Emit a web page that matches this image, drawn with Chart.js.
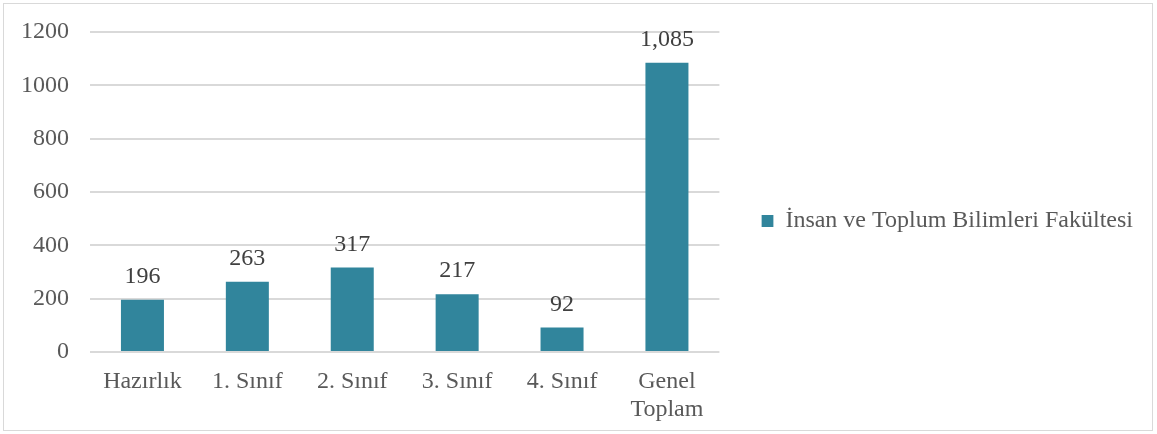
<!DOCTYPE html>
<html>
<head>
<meta charset="utf-8">
<script src="https://cdn.jsdelivr.net/npm/chart.js@4/dist/chart.umd.min.js"></script>
<style>
  html, body { margin: 0; padding: 0; background: #fff; }
  #wrap {
    position: absolute; left: 3px; top: 3px;
    width: 1150px; height: 428px;
    border: 1px solid #d9d9d9; box-sizing: border-box;
  }
</style>
</head>
<body>
<div id="wrap"><canvas id="chart"></canvas></div>
<script>
const categories = ['Hazırlık', '1. Sınıf', '2. Sınıf', '3. Sınıf', '4. Sınıf', ['Genel', 'Toplam']];
const seriesName = 'İnsan ve Toplum Bilimleri Fakültesi';
const studentCounts = [196, 263, 317, 217, 92, 1085];
const yTicks = { min: 0, max: 1200, step: 200 };

const barColor = '#31859c';
const fontFamily = '"Liberation Serif", "Times New Roman", serif';

// draws the value above each bar
const valueLabels = {
    id: 'valueLabels',
    afterDatasetsDraw(chart) {
        const ctx = chart.ctx;
        ctx.save();
        ctx.font = '24px ' + fontFamily;
        ctx.fillStyle = '#404040';
        ctx.textAlign = 'center';
        ctx.textBaseline = 'middle';
        chart.getDatasetMeta(0).data.forEach((bar, i) => {
            const v = chart.data.datasets[0].data[i];
            ctx.fillText(v.toLocaleString('en-US'), bar.x, bar.y - 23);
        });
        ctx.restore();
    }
};

new Chart(document.getElementById('chart'), {
    type: 'bar',
    data: {
        labels: categories,
        datasets: [{
            label: seriesName,
            data: studentCounts,
            backgroundColor: barColor,
            borderWidth: 0,
            barPercentage: 0.41,
            categoryPercentage: 1.0
        }]
    },
    options: {
        responsive: true,
        maintainAspectRatio: false,
        animation: false,
        layout: { padding: { left: 0, right: 9, top: 16, bottom: 8 } },
        scales: {
            x: {
                grid: { display: false, drawTicks: false },
                border: { display: false },
                ticks: {
                    color: '#595959',
                    font: { family: fontFamily, size: 24, lineHeight: 1.15 },
                    padding: 16,
                    maxRotation: 0,
                    autoSkip: false
                },
                afterFit: scale => { scale.height = 70; }
            },
            y: {
                min: yTicks.min,
                max: yTicks.max,
                grid: { color: '#d9d9d9', lineWidth: 2, drawTicks: false },
                border: { display: false },
                ticks: {
                    stepSize: yTicks.step,
                    color: '#595959',
                    font: { family: fontFamily, size: 24 },
                    padding: 21,
                    callback: v => String(v)
                },
                afterFit: scale => {
                    scale.width = 86;
                    scale.paddingTop = 28;
                    scale.paddingBottom = 14;
                }
            },
            // empty spacer between plot and legend
            gap: {
                position: 'right',
                display: true,
                grid: { display: false, drawTicks: false },
                border: { display: false },
                ticks: { display: false },
                afterFit: scale => { scale.width = 42; }
            }
        },
        plugins: {
            legend: {
                position: 'right',
                fullSize: true,
                maxWidth: 500,
                labels: {
                    color: '#595959',
                    font: { family: fontFamily, size: 24 },
                    boxWidth: 12,
                    boxHeight: 12,
                    padding: 0
                }
            },
            tooltip: { enabled: false }
        }
    },
    plugins: [valueLabels]
});
</script>
</body>
</html>
